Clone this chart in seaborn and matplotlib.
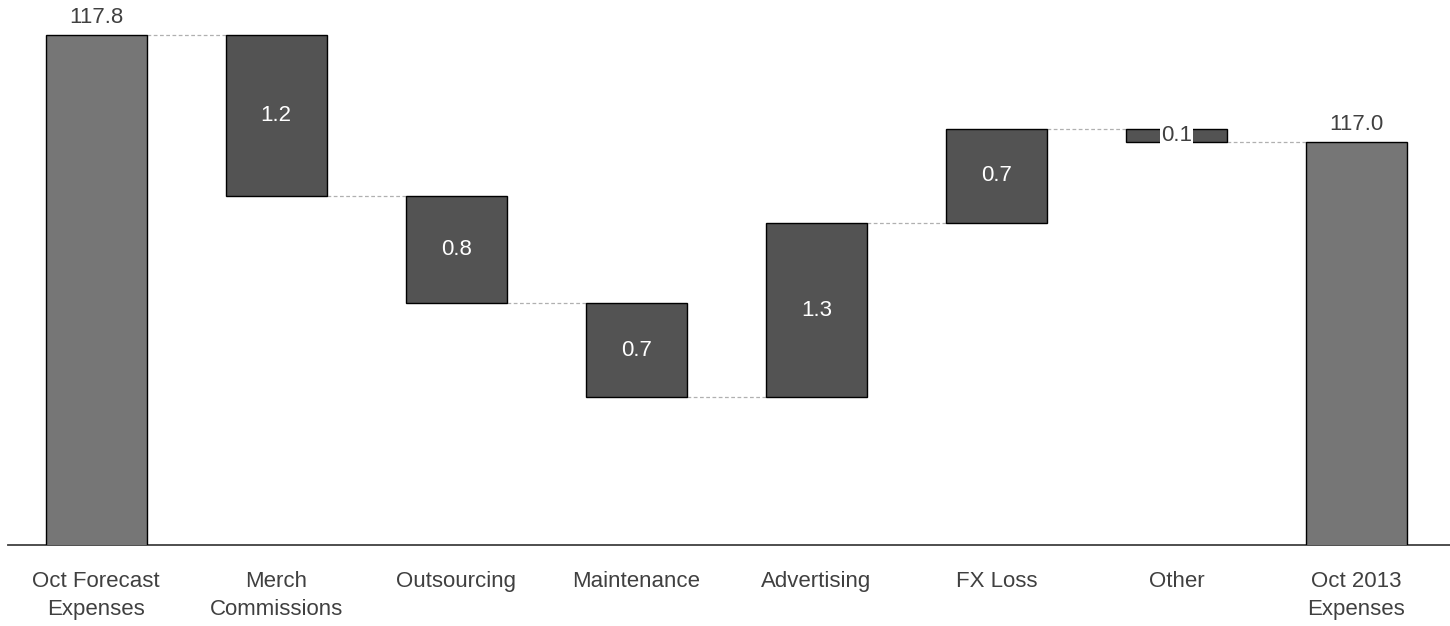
import numpy as np
import pandas as pd
import matplotlib
matplotlib.use("Agg")
import matplotlib.pyplot as plt
import seaborn as sns

categories = ["Oct Forecast\nExpenses", "Merch\nCommissions", "Outsourcing",
              "Maintenance", "Advertising", "FX Loss", "Other", "Oct 2013\nExpenses"]
start_total = 117.8
changes = [-1.2, -0.8, -0.7, 1.3, 0.7, -0.1]
end_total = 117.0

# running totals
levels = [start_total]
for c in changes:
    levels.append(round(levels[-1] + c, 2))

bottoms = [0.0]
heights = [start_total]
for i, c in enumerate(changes):
    lo = min(levels[i], levels[i + 1])
    bottoms.append(lo)
    heights.append(abs(c))
bottoms.append(0.0)
heights.append(end_total)

df = pd.DataFrame({"cat": categories, "height": heights})

sns.set_theme(style="white")
plt.rcParams["font.family"] = ["Liberation Sans", "DejaVu Sans"]

fig = plt.figure(figsize=(14.5, 6.26), dpi=100)
ax = fig.add_axes([8 / 1450, 1 - 545 / 626, 1 - 8 / 1450, 545 / 626])

sns.barplot(data=df, x="cat", y="height", order=categories, ax=ax,
            bottom=np.array(bottoms), width=0.56, color="#555555",
            edgecolor="black", linewidth=1.0, errorbar=None, saturation=1)

total_color = "#767676"
delta_color = "#535353"
for i, p in enumerate(ax.patches):
    p.set_facecolor(total_color if i in (0, len(categories) - 1) else delta_color)
    p.set_zorder(3)

ax.set_ylim(114.0, 118.06)
ax.set_xlim(-0.49, 7.52)

# connectors
hw = 0.28
for i in range(len(categories) - 1):
    lvl = levels[i]
    ax.plot([i + hw, i + 1 - hw], [lvl, lvl], color="#b0b0b0", lw=0.9,
            ls=(0, (3, 2)), zorder=2)

fs = 16
# labels
ax.text(0, start_total + 0.055, f"{start_total:.1f}", ha="center", va="bottom",
        fontsize=fs, color="#404040")
ax.text(len(categories) - 1, end_total + 0.055, f"{end_total:.1f}", ha="center",
        va="bottom", fontsize=fs, color="#404040")
for i, c in enumerate(changes):
    x = i + 1
    mid = bottoms[x] + heights[x] / 2
    if abs(c) < 0.2:
        ax.text(x, mid, f"{abs(c):.1f}", ha="center", va="center", fontsize=fs,
                color="#404040", zorder=5,
                bbox=dict(facecolor="white", edgecolor="none", pad=1.0))
    else:
        ax.text(x, mid, f"{abs(c):.1f}", ha="center", va="center", fontsize=fs,
                color="white", zorder=5)

for s in ["top", "right", "left"]:
    ax.spines[s].set_visible(False)
ax.spines["bottom"].set_color("#404040")
ax.spines["bottom"].set_linewidth(1.3)
ax.set_yticks([])
ax.set_xlabel("")
ax.set_ylabel("")
ax.tick_params(axis="x", length=0, pad=19, labelsize=fs, labelcolor="#404040")
for t in ax.get_xticklabels():
    t.set_linespacing(1.4)

fig.savefig("out.png", dpi=100)
